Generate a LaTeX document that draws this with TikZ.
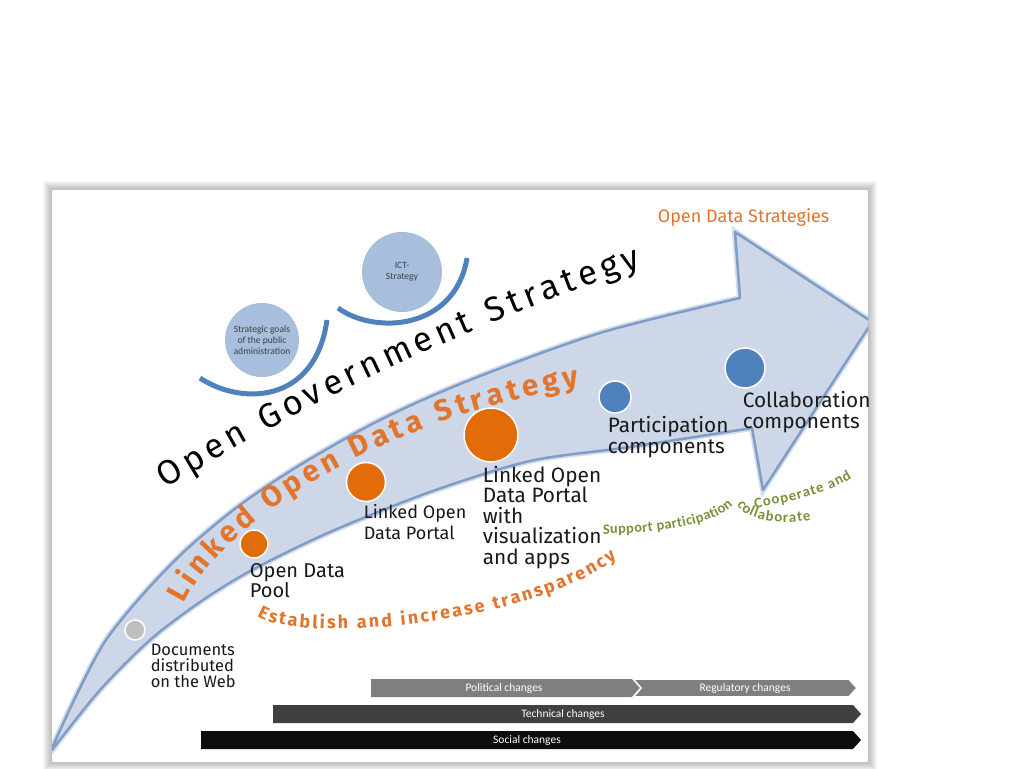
\documentclass[tikz,border=0pt]{standalone}
\usepackage{fontspec}
\setmainfont{Fira Sans}
\newfontfamily\barfont{Carlito}
\usetikzlibrary{decorations.text,shapes.symbols}

\definecolor{bandfill}{HTML}{CDD7E8}
\definecolor{bandedge}{HTML}{7F9DC6}
\definecolor{odorange}{HTML}{E36C0A}
\definecolor{odtext}{HTML}{E2742C}
\definecolor{govblue}{HTML}{4F81BD}
\definecolor{goalfill}{HTML}{A7BEDC}
\definecolor{partgreen}{HTML}{77933C}
\definecolor{polgray}{HTML}{7F7F7F}
\definecolor{techgray}{HTML}{404040}
\definecolor{socblack}{HTML}{0D0D0D}

\begin{document}
\begin{tikzpicture}[x=0.25pt, y=-0.25pt,
  stage/.style={circle, draw=white, line width=0.375pt, inner sep=0pt},
  stagetext/.style={anchor=north west, inner sep=0pt, align=left, text=black!90},
  goal/.style={circle, fill=goalfill, inner sep=0pt, align=center, text=black!75, font=\barfont\fontsize{2.4}{2.7}\selectfont},
  goalarc/.style={draw=govblue, line width=1.25pt},
  bar/.style={signal, signal to=east, signal pointer angle=96, minimum height=4.5pt, inner sep=0pt, text=white, font=\barfont\fontsize{2.875}{3}\selectfont},
  curved/.style={decorate, decoration={text along path, text align={fit to path}, #1}}
]
  \useasboundingbox (0,0) rectangle (1024,768);

  % sheet with soft shadow
  \foreach \s in {1,...,9}
    \fill[black, opacity=0.03] ({52-\s},{190-\s}) rectangle ({868+\s},{762+\s});
  \fill[white] (52,190) rectangle (868,762);

  % the big curved arrow
  \begin{scope}
    \clip (52,190) rectangle (868,762);
    \path[preaction={draw=bandedge, line width=1.5pt, opacity=0.35},
          fill=bandfill, draw=bandedge, line width=0.625pt, line join=round]
      plot[smooth, tension=0.5] coordinates {(52,748) (78,692) (106,640) (145,592) (188,548) (240,505) (300,465) (380,420) (470,380) (600,333) (740,298)}
      -- (735,232) -- (872,322) -- (763,490) -- (752,428)
      -- plot[smooth, tension=0.5] coordinates {(752,428) (630,447) (530,461) (430,492) (330,532) (252,570) (200,602) (150,640) (100,690) (52,750)}
      -- cycle;
  \end{scope}

  % strategy circles
  \draw[goalarc] (200,378) .. controls (240,405) and (315,405) .. (327,320);
  \draw[goalarc] (338,308) .. controls (375,335) and (455,330) .. (467,258);
  \node[goal, minimum size=18.5pt] (goals) at (262,340) {Strategic goals\\of the public\\administration};
  \node[goal, minimum size=20pt] (ict) at (402,272) {ICT-\\Strategy};

  \node[anchor=base west, inner sep=0pt, text=odtext, font=\fontsize{4.5}{4.5}\selectfont] (ods) at (657,223) {Open Data Strategies};

  % curved texts
  \path[curved={text={|\fontsize{8.6}{8.6}\selectfont|Open Government Strategy}}]
    (166,489) .. controls (290,410) and (480,320) .. (641,267);
  \path[curved={text color=odtext, text={|\fontsize{7.4}{7.4}\selectfont\bfseries|Linked Open Data Strategy}}]
    (184,604) .. controls (225,520) and (380,420) .. (580,386);
  \path[curved={text color=odtext, text={|\fontsize{4.5}{4.5}\selectfont\bfseries|Establish and increase transparency}}]
    (257,616) .. controls (300,645) and (530,625) .. (617,558);
  \path[curved={text color=partgreen, text={|\barfont\fontsize{3.6}{3.6}\selectfont\bfseries|Support participation}}]
    (603,534) .. controls (660,533) and (712,526) .. (733,505);
  \path[curved={text color=partgreen, text={|\barfont\fontsize{3.7}{3.7}\selectfont\bfseries|Cooperate and}}]
    (755,508) .. controls (785,503) and (825,495) .. (852,478);
  \path[curved={text color=partgreen, text={|\barfont\fontsize{3.7}{3.7}\selectfont\bfseries|collaborate}}]
    (737,504) .. controls (744,520) and (780,526) .. (811,520);

  % stages on the arrow
  \node[stage, fill=gray!50, minimum size=5pt] (docs) at (135,630) {};
  \node[stage, fill=odorange, minimum size=7pt] (pool) at (254,544) {};
  \node[stage, fill=odorange, minimum size=9.75pt] (portal) at (366,482) {};
  \node[stage, fill=odorange, minimum size=13.5pt] (apps) at (491,435) {};
  \node[stage, fill=govblue, minimum size=8pt] (part) at (615,397) {};
  \node[stage, fill=govblue, minimum size=10pt] (collab) at (745,368) {};

  \node[stagetext, font=\fontsize{4.125}{4}\selectfont] (docstext) at (150,643) {Documents\\distributed\\on the Web};
  \node[stagetext, font=\fontsize{5}{5}\selectfont] (pooltext) at (249,563) {Open Data\\Pool};
  \node[stagetext, font=\fontsize{4.5}{5.25}\selectfont] (portaltext) at (363,504) {Linked Open\\Data Portal};
  \node[stagetext, font=\fontsize{5.2}{5.125}\selectfont] (appstext) at (482,465) {Linked Open\\Data Portal\\with\\visualization\\and apps};
  \node[stagetext, font=\fontsize{5.2}{5.25}\selectfont] (parttext) at (607,415) {Participation\\components};
  \node[stagetext, font=\fontsize{5.2}{5.25}\selectfont] (collabtext) at (742,390) {Collaboration\\components};

  % change bars
  \node[bar, fill=socblack, minimum width=165pt] (social) at (527,740) {Social changes};
  \node[bar, fill=techgray, minimum width=147pt] (technical) at (563,714) {Technical changes};
  \node[bar, fill=polgray, minimum width=68.5pt] (political) at (504,688) {Political changes};
  \node[bar, fill=polgray, draw=white, line width=0.4pt, signal from=west, minimum width=56pt] (regulatory) at (745,688) {Regulatory changes};
\end{tikzpicture}
\end{document}
